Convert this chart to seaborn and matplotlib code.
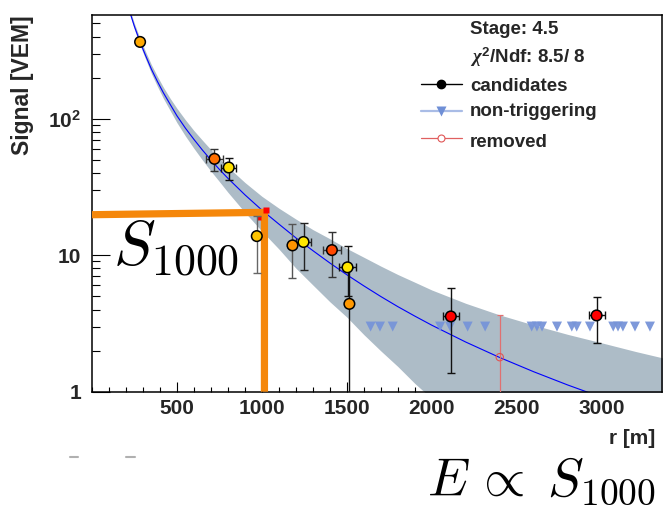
import matplotlib
matplotlib.use("Agg")
import matplotlib.pyplot as plt
from matplotlib.lines import Line2D
from matplotlib.ticker import FixedLocator, MultipleLocator, LogLocator, NullFormatter, FixedFormatter
import pandas as pd
import seaborn as sns

# ---- candidate stations: distance to core [m], signal [VEM], errors ----
cand_r = [283, 721, 805, 970, 1180, 1245, 1412, 1504, 1515, 2112, 2970]
cand_s = [365, 50.8, 43.9, 13.8, 11.8, 12.5, 10.9, 8.15, 4.4, 3.56, 3.62]
cand_s_lo = [365, 41.4, 35.8, 7.4, 6.8, 7.8, 6.9, 5.0, 0.5, 1.37, 2.29]
cand_s_hi = [365, 59.9, 51.4, 19.3, 16.8, 17.2, 14.9, 11.7, 8.0, 5.75, 4.94]
cand_r_err = [0, 50, 45, 0, 0, 45, 55, 50, 0, 47, 47]
cand_color = ["#ffa800", "#ff6f00", "#ffe000", "#ffc400", "#ff9400", "#ffe600",
              "#ff4800", "#ffe600", "#ff9800", "#ff0000", "#ff0000"]
cand_bar_color = ["#111111", "#333333", "#111111", "#666666", "#555555", "#222222",
                  "#333333", "#111111", "#111111", "#111111", "#111111"]

# ---- non-triggering stations ----
nt_r = [1640, 1695, 1770, 2049, 2108, 2211, 2314, 2588, 2619, 2649, 2737,
        2824, 2853, 2931, 3068, 3096, 3125, 3196, 3284]
nt_s = [3.0] * len(nt_r)

# ---- removed station ----
rm_r = [2400]
rm_s = [1.79]
rm_s_lo = [0.5]
rm_s_hi = [3.62]

# ---- LDF fit and its uncertainty band ----
curve_r = [220, 250, 283, 315, 350, 385, 420, 460, 500, 550, 600, 650, 700, 750,
           800, 900, 1000, 1100, 1200, 1300, 1400, 1500, 1600, 1700, 1800, 1900,
           2000, 2200, 2400, 2600, 2800, 3000, 3200, 3400]
fit_s = [619, 473, 365, 291, 230, 187.5, 155, 127.4, 105, 85.2, 70.5, 58.9, 49.8, 42.5,
         36.6, 27.7, 21.4, 16.9, 13.4, 10.8, 8.77, 7.19, 5.96, 4.98, 4.20, 3.58,
         3.07, 2.31, 1.78, 1.40, 1.12, 0.91, 0.75, 0.62]
band_hi = [644, 497, 387, 311, 248, 204, 170, 141, 119, 98, 81.8, 69.5, 59.3, 51.0,
           44.3, 34.1, 27.0, 22.1, 18.4, 15.4, 13.2, 11.2, 9.66, 8.32, 7.22, 6.34,
           5.56, 4.44, 3.65, 3.08, 2.63, 2.28, 1.97, 1.72]
band_lo = [594, 449, 345, 274, 214, 172.5, 141, 114.7, 93.5, 74.6, 60.6, 49.8, 41.3, 34.6,
           28.9, 20.6, 15.0, 11.1, 8.04, 6.05, 4.56, 3.52, 2.62, 1.99, 1.53, 1.15,
           0.89, 0.55, 0.4, 0.4, 0.4, 0.4, 0.4, 0.4]

# ---- S1000 marker lines ----
s1000_r = 1015
s1000_path_r = [0, s1000_r, s1000_r]
s1000_path_s = [19.8, 20.6, 1.0]

x_ticks = [500, 1000, 1500, 2000, 2500, 3000]
y_ticks = [1, 10, 100]
y_tick_labels = ["1", "10", r"$\mathrm{10^{2}}$"]

sns.set_theme(style="ticks")
plt.rcParams["font.family"] = ["Liberation Sans", "DejaVu Sans"]
plt.rcParams["font.weight"] = "bold"
plt.rcParams["mathtext.fontset"] = "custom"
plt.rcParams["mathtext.rm"] = "Liberation Sans:bold"
plt.rcParams["mathtext.bf"] = "Liberation Sans:bold"
plt.rcParams["mathtext.it"] = "Liberation Serif:italic"

W, H = 664, 505
fig = plt.figure(figsize=(W / 100, H / 100), dpi=100)
fig.patch.set_facecolor("white")
ax = fig.add_axes([92 / W, 1 - 391.7 / H, 570 / W, 376.7 / H])
ax.set_facecolor("white")

# uncertainty band and fit
ax.fill_between(curve_r, band_lo, band_hi, color="#adbcc7", lw=0, zorder=1)
sns.lineplot(x=curve_r, y=fit_s, sort=False, color="#0000ff", lw=0.8, ax=ax, zorder=2)

# S1000 guide lines
ax.plot(s1000_path_r, s1000_path_s, color="#f5870a", lw=5.2,
        solid_joinstyle="miter", solid_capstyle="butt", zorder=3)
ax.plot([s1000_r + 10], [21.3], marker="s", ms=4.5, color="#ff0000", mec="none", zorder=4)
ax.plot([985], [18.7], marker="s", ms=2.5, color="#ff0000", mec="none", zorder=4)

# non-triggering stations
sns.scatterplot(x=nt_r, y=nt_s, marker="v", s=52, color="#7794d8",
                edgecolor="none", alpha=0.95, ax=ax, zorder=3, legend=False)

# removed station
ax.errorbar(rm_r, rm_s,
            yerr=[[rm_s[0] - rm_s_lo[0]], [rm_s_hi[0] - rm_s[0]]],
            fmt="none", ecolor="#e07070", elinewidth=0.9, capsize=2.5, capthick=0.9, zorder=4)
sns.scatterplot(x=rm_r, y=rm_s, marker="o", s=28, facecolor="none",
                edgecolor="#e05555", linewidth=0.8, ax=ax, zorder=5, legend=False)

# candidate stations
for r, s, lo, hi, re, bc in zip(cand_r, cand_s, cand_s_lo, cand_s_hi, cand_r_err, cand_bar_color):
    ax.errorbar([r], [s], yerr=[[s - lo], [hi - s]], xerr=[[re], [re]],
                fmt="none", ecolor=bc, elinewidth=1.0, capsize=2.6, capthick=1.0, zorder=5)
cand_df = pd.DataFrame({"r": cand_r, "s": cand_s, "id": range(len(cand_r))})
sns.scatterplot(data=cand_df, x="r", y="s", hue="id", palette=cand_color,
                s=58, edgecolor="black", linewidth=1.1, ax=ax, zorder=6, legend=False)

# axes
ax.set_yscale("log")
ax.set_xlim(0, 3355)
ax.set_ylim(1, 575)
ax.set_xlabel("")
ax.set_ylabel("")
ax.xaxis.set_major_locator(FixedLocator(x_ticks))
ax.xaxis.set_minor_locator(MultipleLocator(100))
ax.yaxis.set_major_locator(FixedLocator(y_ticks))
ax.yaxis.set_major_formatter(FixedFormatter(y_tick_labels))
ax.yaxis.set_minor_locator(LogLocator(base=10, subs=[2, 3, 4, 5, 6, 7, 8, 9]))
ax.yaxis.set_minor_formatter(NullFormatter())
ax.tick_params(axis="x", which="major", direction="in", length=7.2, width=0.8,
               labelsize=15, pad=5, top=False, color="black")
ax.tick_params(axis="x", which="minor", direction="in", length=3.6, width=0.8,
               top=False, color="black")
ax.tick_params(axis="y", which="major", direction="in", length=13, width=0.8,
               labelsize=15, pad=8, right=False, color="black")
ax.tick_params(axis="y", which="minor", direction="in", length=5.8, width=0.8,
               right=False, color="black")
for lab in ax.get_xticklabels() + ax.get_yticklabels():
    lab.set_fontweight("bold")
for sp in ax.spines.values():
    sp.set_visible(True)
    sp.set_color("black")
    sp.set_linewidth(1.1)

# legend / fit info
leg_x_text = (470 - 92) / 570
leg_x0, leg_x1, leg_xm = (421 - 92) / 570, (462 - 92) / 570, (441 - 92) / 570
ax.text(leg_x_text, 0.9496, "Stage: 4.5", transform=ax.transAxes, fontsize=13.5,
        fontweight="bold", va="baseline", ha="left")
ax.text(leg_x_text, 0.8718, r"$\chi^{2}$/Ndf: 8.5/ 8", transform=ax.transAxes,
        fontsize=13.5, fontweight="bold", va="baseline", ha="left")
legend_rows = [
    ("candidates", 0.7990, 0.8168, dict(color="black", lw=1.0),
     dict(marker="o", ms=6, color="black", mec="black")),
    ("non-triggering", 0.7319, 0.7452, dict(color="#a9bce6", lw=1.6),
     dict(marker="v", ms=7, color="#6f8fd6", mec="none")),
    ("removed", 0.6504, 0.6727, dict(color="#e06060", lw=0.9),
     dict(marker="o", ms=5, mfc="white", mec="#e05555", mew=0.8)),
]
for label, ybase, yline, lkw, mkw in legend_rows:
    ax.add_line(Line2D([leg_x0, leg_x1], [yline, yline], transform=ax.transAxes,
                       clip_on=False, zorder=7, **lkw))
    ax.add_line(Line2D([leg_xm], [yline], transform=ax.transAxes, ls="none",
                       clip_on=False, zorder=8, **mkw))
    ax.text(leg_x_text, ybase, label, transform=ax.transAxes, fontsize=13.5,
            fontweight="bold", va="baseline", ha="left")

# axis titles
fig.text(22 / W, 1 - 15 / H, "Signal [VEM]", rotation=90, ha="center", va="top",
         fontsize=16.5, fontweight="bold")
fig.text(655 / W, 1 - 438 / H, "r [m]", ha="right", va="center",
         fontsize=15, fontweight="bold")

# S1000 annotations
fig.text(113 / W, 1 - 265 / H, r"$S_{1000}$", ha="left", va="baseline",
         fontsize=45, math_fontfamily="cm", color="black")
fig.text(656 / W, 1 - 495 / H, r"$E\,\propto\;S_{1000}$", ha="right", va="baseline",
         fontsize=38.5, math_fontfamily="cm", color="black")

# small grey marks under the axis
for x0, x1 in [(70, 78), (126, 135)]:
    fig.add_artist(Line2D([x0 / W, x1 / W], [1 - 457 / H, 1 - 457 / H],
                          transform=fig.transFigure, color="#b0b0b0", lw=1.5))

fig.savefig("out.png", dpi=100)
